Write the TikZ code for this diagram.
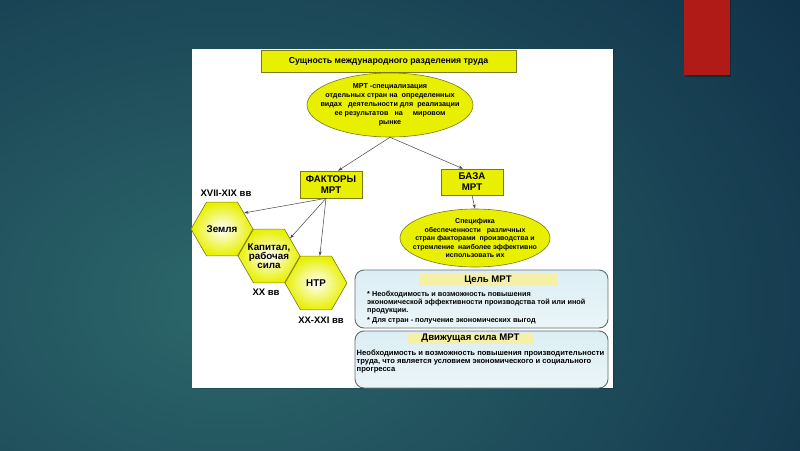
\documentclass[tikz,border=0pt]{standalone}
\usepackage{fontspec}
\setmainfont{Liberation Sans}
\usetikzlibrary{shapes.geometric,arrows.meta,calc}
\definecolor{bgin}{HTML}{2C676B}
\definecolor{bgout}{HTML}{11334A}
\definecolor{yel}{HTML}{E8F000}
\definecolor{olive}{HTML}{7A7A14}
\definecolor{boxfill}{HTML}{DCEEF4}
\definecolor{boxline}{HTML}{5E6E73}
\definecolor{hil}{HTML}{F6F0A6}
\definecolor{redbar}{HTML}{B01A17}
\definecolor{arr}{HTML}{444444}
\tikzset{
  ybox/.style={draw=olive, line width=0.6pt, fill=yel, inner sep=0pt},
  yell/.style={ellipse, draw=olive, line width=0.6pt, fill=yel, inner sep=0pt},
  hexa/.style={regular polygon, regular polygon sides=6, minimum size=62pt, inner sep=0pt,
     draw=olive, line width=0.6pt, shading=radial, inner color=white, outer color=yel},
  conn/.style={draw=arr, line width=0.5pt, -{Stealth[length=4.5pt,width=3pt]}},
  infobox/.style={draw=boxline, line width=0.9pt, rounded corners=9pt, top color=boxfill, bottom color=boxfill!60!white, inner sep=0pt},
  hibox/.style={fill=hil, inner sep=0pt},
  txt/.style={font=\bfseries, text=black, inner sep=0pt}
}
\begin{document}
\begin{tikzpicture}[x=1pt,y=-1pt]
\useasboundingbox (0,0) rectangle (800,450);
% background
\begin{scope}
\clip (0,0) rectangle (800,450);
\shade[inner color=bgin, outer color=bgout] (-470,-200) rectangle (930,800);
\end{scope}
% red bar
\fill[black,opacity=0.25] (685,0) rectangle (731,77);
\fill[redbar] (684,0) rectangle (730,75);
% white panel
\fill[black,opacity=0.15] (193,50) rectangle (614,389);
\fill[white] (192,49) rectangle (613,388);

% title
\node[ybox, minimum width=255pt, minimum height=22pt] (title) at (388.5,61) {};
\node[txt, font=\bfseries\fontsize{8.7}{10}\selectfont] (titletxt) at (title.center) {Сущность международного разделения труда};

% ellipse 1
\node[yell, minimum width=166pt, minimum height=64pt] (e1) at (390,105) {};
\node[txt, align=center, font=\bfseries\fontsize{7.2}{9}\selectfont] (e1txt) at (e1.center)
 {МРТ -специализация\\ отдельных стран на\ \ определенных\\ видах\ \ \ деятельности для\ \ реализации\\ ее результатов\ \ \ на\ \ \ \ \ мировом\\ рынке};

% factor and base boxes
\node[ybox, minimum width=62pt, minimum height=27pt] (f) at (331,184.5) {};
\node[txt, align=center, font=\bfseries\fontsize{9.7}{11}\selectfont] (ftxt) at (f.center) {ФАКТОРЫ\\ МРТ};
\node[ybox, minimum width=62pt, minimum height=26pt] (b) at (472,182) {};
\node[txt, align=center, font=\bfseries\fontsize{9.7}{11}\selectfont] (btxt) at (b.center) {БАЗА\\ МРТ};

% ellipse 2
\node[yell, minimum width=150pt, minimum height=58pt] (e2) at (475,238) {};
\node[txt, align=center, font=\bfseries\fontsize{7}{8.5}\selectfont] (e2txt) at (e2.center)
 {Специфика\\ обеспеченности\ \ \ различных\\ стран факторами\ \ производства и\\ стремление\ \ наиболее\ эффективно\\ использовать их};

% hexagons
\node[hexa] (h1) at (222,229) {};
\node[hexa] (h2) at (269,256) {};
\node[hexa] (h3) at (316,283) {};
\node[txt, font=\bfseries\fontsize{9.8}{10}\selectfont] (h1txt) at (h1.center) {Земля};
\node[txt, align=center, font=\bfseries\fontsize{9.8}{9.2}\selectfont] (h2txt) at (h2.center) {Капитал,\\ рабочая\\ сила};
\node[txt, font=\bfseries\fontsize{9.8}{10}\selectfont] (h3txt) at (h3.center) {НТР};

% era labels
\node[txt, font=\bfseries\fontsize{9.5}{10}\selectfont] (l1) at (226,193) {XVII-XIX вв};
\node[txt, font=\bfseries\fontsize{9.5}{10}\selectfont] (l2) at (266,292) {XX вв};
\node[txt, font=\bfseries\fontsize{9.5}{10}\selectfont] (l3) at (321,320) {XX-XXI вв};

% connectors
\draw[conn] (e1.south) -- ([xshift=7pt]f.north);
\draw[conn] (e1.south) -- ([xshift=-9pt]b.north);
\draw[conn] ([xshift=-5pt]f.south) -- (h1.36);
\draw[conn] ([xshift=-5pt]f.south) -- (h2.40);
\draw[conn] ([xshift=-5pt]f.south) -- (h3.82);
\draw[conn] (b.south) -- (e2.north);

% goal box
\node[infobox, minimum width=253pt, minimum height=58pt] (goal) at (481.5,299) {};
\node[hibox, minimum width=138pt, minimum height=12pt] (goalhi) at (488,280) {};
\node[txt, font=\bfseries\fontsize{9.6}{10}\selectfont] (goaltitle) at (goalhi.center) {Цель МРТ};
\node[txt, anchor=north west, align=left, font=\bfseries\fontsize{7.3}{7.7}\selectfont] (goaltxt) at (367,291.2)
 {* Необходимость и возможность повышения\\ экономической эффективности производства той или иной\\ продукции.\\[2.8pt] * Для стран - получение экономических выгод};

% driving force box
\node[infobox, minimum width=253pt, minimum height=57pt] (force) at (481.5,359.5) {};
\node[hibox, minimum width=125pt, minimum height=11pt] (forcehi) at (470.5,338.5) {};
\node[txt, font=\bfseries\fontsize{9.6}{10}\selectfont] (forcetitle) at (forcehi.center) {Движущая сила МРТ};
\node[txt, anchor=north west, align=left, font=\bfseries\fontsize{7.6}{8.3}\selectfont] (forcetxt) at (356.5,349.3)
 {Необходимость и возможность повышения производительности\\ труда, что является условием экономического и социального\\ прогресса};
\end{tikzpicture}
\end{document}
